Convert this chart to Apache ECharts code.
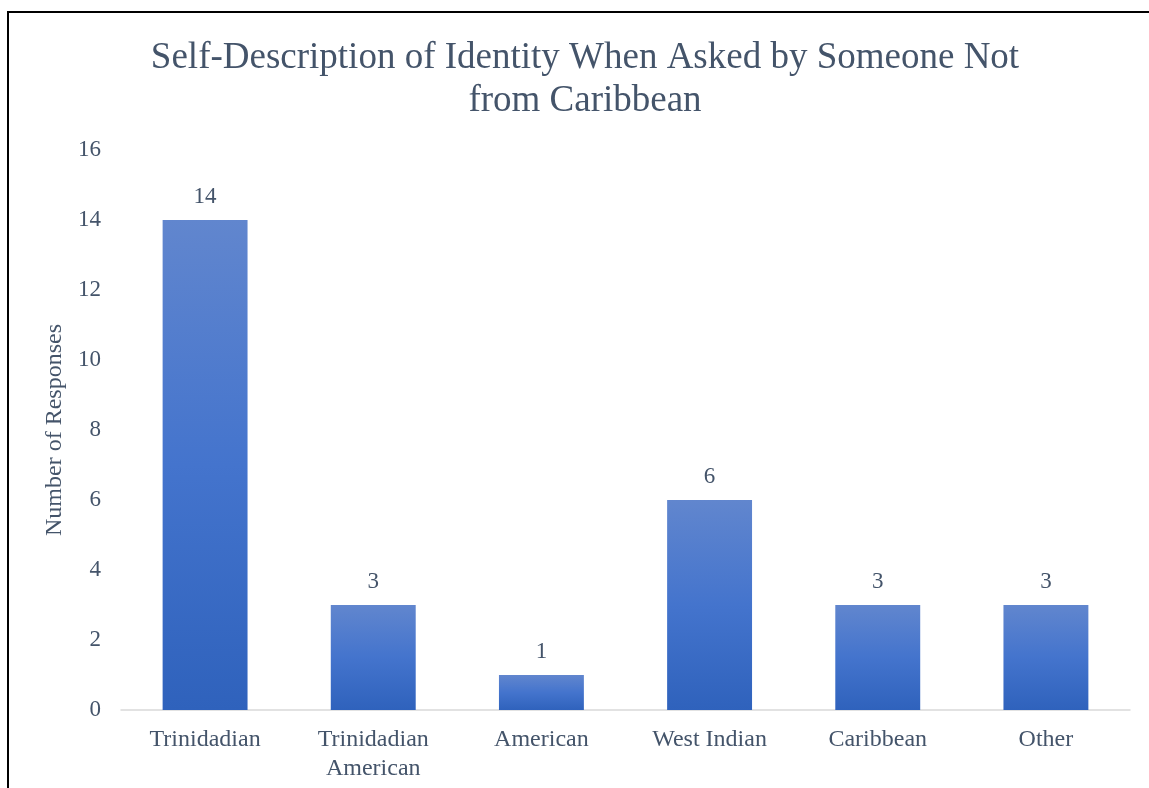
<!DOCTYPE html>
<html>
<head>
<meta charset="utf-8">
<script src="https://cdn.jsdelivr.net/npm/echarts@6/dist/echarts.min.js"></script>
<style>
  html, body { margin: 0; padding: 0; background: #fff; }
  #frame {
    position: absolute; left: 7px; top: 11px; width: 1200px; height: 800px;
    border-left: 2px solid #000; border-top: 2px solid #000;
  }
  #chart { position: absolute; left: 0; top: 0; width: 1149px; height: 788px; }
</style>
</head>
<body>
<div id="frame"></div>
<div id="chart"></div>
<script>
// 分类和数据
const categories = ['Trinidadian', 'Trinidadian\nAmerican', 'American', 'West Indian', 'Caribbean', 'Other'];
const responses = [14, 3, 1, 6, 3, 3];
const yTicks = { min: 0, max: 16, interval: 2 };

const textColor = '#44546A';
const font = '"Liberation Serif", "Times New Roman", serif';

const myChart = echarts.init(document.getElementById('chart'));

const option = {
  animation: false,
  title: {
    text: 'Self-Description of Identity When Asked by Someone Not\nfrom Caribbean',
    left: 580,
    top: 32,
    textAlign: 'center',
    textStyle: {
      fontFamily: font,
      fontSize: 37,
      fontWeight: 'normal',
      color: textColor,
      lineHeight: 43
    }
  },
  grid: { left: 121, right: 19, top: 150, bottom: 78 },
  xAxis: {
    type: 'category',
    data: categories,
    axisLine: { lineStyle: { color: '#D9D9D9', width: 1.5 } },
    axisTick: { show: false },
    axisLabel: {
      fontFamily: font, fontSize: 24, color: textColor,
      margin: 15, lineHeight: 29, interval: 0
    }
  },
  yAxis: {
    type: 'value',
    min: yTicks.min,
    max: yTicks.max,
    interval: yTicks.interval,
    name: 'Number of Responses',
    nameLocation: 'middle',
    nameGap: 54,
    nameTextStyle: { fontFamily: font, fontSize: 24, color: textColor },
    splitLine: { show: false },
    axisLine: { show: false },
    axisTick: { show: false },
    axisLabel: { fontFamily: font, fontSize: 23, color: textColor, margin: 20 }
  },
  series: [
    {
      type: 'bar',
      data: responses,
      barWidth: '50.5%',
      itemStyle: {
        color: new echarts.graphic.LinearGradient(0, 0, 0, 1, [
          { offset: 0, color: '#6186CE' },
          { offset: 0.5, color: '#4474CD' },
          { offset: 1, color: '#2F62BC' }
        ])
      },
      label: {
        show: true,
        position: 'top',
        distance: 12,
        fontFamily: font,
        fontSize: 23,
        color: textColor
      }
    }
  ]
};

myChart.setOption(option);
</script>
</body>
</html>
